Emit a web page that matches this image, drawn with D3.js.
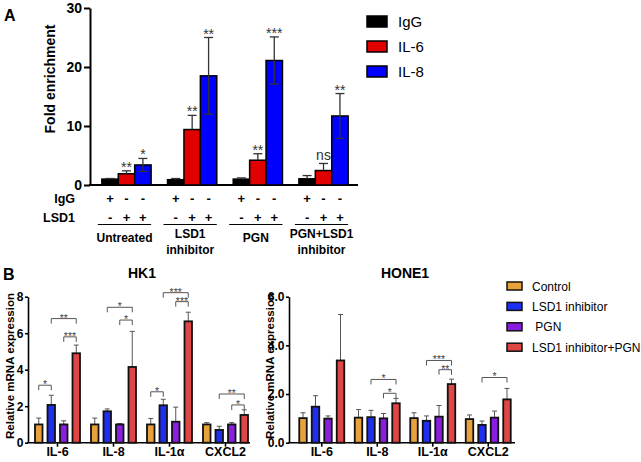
<!DOCTYPE html>
<html>
<head>
<meta charset="utf-8">
<script src="https://cdn.jsdelivr.net/npm/d3@7"></script>
<style>
body { margin: 0; background: #fff; }
text { font-family: "Liberation Sans", Arial, sans-serif; }
</style>
</head>
<body>
<svg id="fig" width="641" height="462"></svg>
<script>
const svg = d3.select("#fig");

// ---- panel A data ----
const groupsA = ["Untreated", "LSD1 inhibitor", "PGN", "PGN+LSD1 inhibitor"];
const groupLinesA = [["Untreated"], ["LSD1", "inhibitor"], ["PGN"], ["PGN+LSD1", "inhibitor"]];
const seriesA = ["IgG", "IL-6", "IL-8"];
const iggA = [1.0, 0.9, 1.0, 1.05];
const iggErrA = [0.1, 0.2, 0.2, 0.55];
const il6A = [1.9, 9.4, 4.2, 2.45];
const il6ErrA = [0.5, 2.4, 1.1, 1.2];
const il8A = [3.4, 18.5, 21.1, 11.7];
const il8ErrA = [1.1, 6.5, 4.0, 3.8];
const il6SigA = ["**", "**", "**", "ns"];
const il8SigA = ["*", "**", "***", "**"];
const iggRow = ["+", "-", "-"];
const lsd1Row = ["-", "+", "+"];
const ticksA = [0, 10, 20, 30];
const colorsA = ["#000000", "#e00000", "#0000ff"];

// ---- panel B data ----
const genesB = ["IL-6", "IL-8", "IL-1α", "CXCL2"];
const condsB = ["Control", "LSD1 inhibitor", " PGN", "LSD1 inhibitor+PGN"];
const colorsB = ["#e9a23b", "#1f2ff0", "#8a1ee0", "#e04646"];

const hkCtrl = [1.0, 1.0, 1.0, 1.0];
const hkLsd1 = [2.07, 1.72, 2.05, 0.7];
const hkPgn = [1.0, 1.0, 1.15, 1.0];
const hkCombo = [4.9, 4.15, 6.65, 1.52];
const hkCtrlErr = [0.35, 0.35, 0.33, 0.1];
const hkLsd1Err = [0.53, 0.13, 0.33, 0.2];
const hkPgnErr = [0.2, 0.05, 0.8, 0.1];
const hkComboErr = [0.45, 1.95, 0.5, 0.28];
// [gene index, from bar, to bar, height, label]
const hkSig = [
  [0, 0, 1, 3.15, "*"], [0, 1, 3, 6.8, "**"], [0, 2, 3, 5.8, "***"],
  [1, 1, 3, 7.42, "*"], [1, 2, 3, 6.72, "*"],
  [2, 0, 1, 2.79, "*"], [2, 1, 3, 8.22, "***"], [2, 2, 3, 7.73, "***"],
  [3, 1, 3, 2.67, "**"], [3, 2, 3, 2.07, "*"]
];
const hkTicks = [0, 2, 4, 6, 8];

const hoCtrl = [1.01, 1.03, 1.01, 0.97];
const hoLsd1 = [1.48, 1.05, 0.9, 0.73];
const hoPgn = [0.99, 1.0, 1.07, 1.03];
const hoCombo = [3.38, 1.62, 2.41, 1.78];
const hoCtrlErr = [0.22, 0.33, 0.22, 0.17];
const hoLsd1Err = [0.45, 0.28, 0.2, 0.16];
const hoPgnErr = [0.11, 0.2, 0.46, 0.27];
const hoComboErr = [1.89, 0.2, 0.2, 0.45];
const hoSig = [
  [1, 1, 3, 2.6, "*"], [1, 2, 3, 2.03, "*"],
  [2, 1, 3, 3.38, "***"], [2, 2, 3, 3.0, "**"],
  [3, 1, 3, 2.68, "*"]
];
const hoTicks = [0, 2, 4, 6];

// ================= panel A =================
const xA = d3.scaleBand().domain(groupsA).range([92, 358]).paddingInner(0.25).paddingOuter(0.15);
const subA = d3.scaleBand().domain(seriesA).range([0, xA.bandwidth()]);
const yA = d3.scaleLinear().domain([0, 30]).range([185, 8]);

const valsA = [iggA, il6A, il8A];
const errsA = [iggErrA, il6ErrA, il8ErrA];
const barsA = groupsA.flatMap((grp, i) =>
  seriesA.map((s, k) => ({ grp, s, k, v: valsA[k][i], e: errsA[k][i] })));

svg.append("text").attr("x", 4).attr("y", 21)
  .attr("font-size", 16).attr("font-weight", "bold").text("A");

const axA = svg.append("g").attr("transform", "translate(90,0)")
  .call(d3.axisLeft(yA).tickValues(ticksA).tickSize(6).tickSizeOuter(0).tickPadding(2));
axA.selectAll("path, line").attr("stroke", "#000").attr("stroke-width", 2);
axA.selectAll("text").attr("font-size", 14).attr("font-weight", "bold")
  .attr("font-family", "Liberation Sans, Arial, sans-serif").attr("fill", "#000");

svg.append("line")
  .attr("x1", 89).attr("x2", xA.range()[1])
  .attr("y1", yA(0)).attr("y2", yA(0))
  .attr("stroke", "#000").attr("stroke-width", 2);

svg.append("text")
  .attr("transform", "translate(55,79) rotate(-90)")
  .attr("text-anchor", "middle").attr("font-size", 14).attr("font-weight", "bold")
  .text("Fold enrichment");

svg.append("g").selectAll("rect").data(barsA).join("rect")
  .attr("x", d => xA(d.grp) + subA(d.s))
  .attr("y", d => yA(d.v))
  .attr("width", subA.bandwidth())
  .attr("height", d => yA(0) - yA(d.v))
  .attr("fill", d => colorsA[d.k])
  .attr("stroke", "#000").attr("stroke-width", 1.5);

const errA = svg.append("g").attr("stroke", "#333").attr("stroke-width", 1.3);
barsA.forEach(d => {
  const cx = xA(d.grp) + subA(d.s) + subA.bandwidth() / 2;
  const lo = d.k === 2 ? d.v - d.e : d.v;
  errA.append("line").attr("x1", cx).attr("x2", cx).attr("y1", yA(lo)).attr("y2", yA(d.v + d.e));
  errA.append("line").attr("x1", cx - 4.5).attr("x2", cx + 4.5)
    .attr("y1", yA(d.v + d.e)).attr("y2", yA(d.v + d.e));
  if (d.k === 2) {
    errA.append("line").attr("x1", cx - 4.5).attr("x2", cx + 4.5)
      .attr("y1", yA(lo)).attr("y2", yA(lo));
  }
});

// significance marks over IL-6 and IL-8
const sigA = svg.append("g").attr("fill", "#333").attr("text-anchor", "middle").attr("font-size", 14);
groupsA.forEach((grp, i) => {
  [[1, il6SigA[i]], [2, il8SigA[i]]].forEach(([k, lab]) => {
    const cx = xA(grp) + subA(seriesA[k]) + subA.bandwidth() / 2;
    const top = yA(valsA[k][i] + errsA[k][i]);
    sigA.append("text").attr("x", cx).attr("y", lab === "ns" ? top - 3 : top + 1).text(lab);
  });
});

// legend A
const legA = svg.append("g");
seriesA.forEach((s, k) => {
  legA.append("rect").attr("x", 367).attr("y", 16 + k * 25).attr("width", 20).attr("height", 11)
    .attr("fill", colorsA[k]).attr("stroke", "#000").attr("stroke-width", 1.5);
  legA.append("text").attr("x", 398).attr("y", 27 + k * 25).attr("font-size", 15).text(s);
});

// +/- rows and group labels
const rowA = svg.append("g").attr("font-weight", "bold");
rowA.append("text").attr("x", 75).attr("y", 203).attr("text-anchor", "end").attr("font-size", 12.5).text("IgG");
rowA.append("text").attr("x", 75).attr("y", 222).attr("text-anchor", "end").attr("font-size", 12.5).text("LSD1");
groupsA.forEach((grp, i) => {
  seriesA.forEach((s, k) => {
    const cx = xA(grp) + subA(s) + subA.bandwidth() / 2;
    rowA.append("text").attr("x", cx).attr("y", 203).attr("text-anchor", "middle")
      .attr("font-size", 13).text(iggRow[k]);
    rowA.append("text").attr("x", cx).attr("y", 222).attr("text-anchor", "middle")
      .attr("font-size", 13).text(lsd1Row[k]);
  });
  rowA.append("line").attr("x1", xA(grp) - 4).attr("x2", xA(grp) + xA.bandwidth())
    .attr("y1", 224.5).attr("y2", 224.5).attr("stroke", "#000").attr("stroke-width", 1.2);
  const lines = groupLinesA[i];
  lines.forEach((ln, j) => {
    rowA.append("text")
      .attr("x", xA(grp) + xA.bandwidth() / 2 - 2)
      .attr("y", lines.length === 1 ? 242 : 238 + j * 16)
      .attr("text-anchor", "middle").attr("font-size", 12).text(ln);
  });
});

// ================= panel B =================
svg.append("text").attr("x", 3).attr("y", 280)
  .attr("font-size", 16).attr("font-weight", "bold").text("B");

function panelB(opt) {
  const x = d3.scaleBand().domain(genesB).range(opt.xRange);
  const sub = d3.scaleBand().domain(condsB).range([-25, 25]).paddingInner(0.4).paddingOuter(0.2);
  const y = d3.scaleLinear().domain([0, opt.yMax]).range([442.7, 296.7]);
  const cx = (gi, k) => x(genesB[gi]) + x.bandwidth() / 2 + sub(condsB[k]) + sub.bandwidth() / 2;

  const g = svg.append("g");

  g.append("text").attr("x", opt.titleX).attr("y", 278).attr("text-anchor", "middle")
    .attr("font-size", 14).attr("font-weight", "bold").text(opt.title);

  g.append("text")
    .attr("transform", `translate(${opt.labelX},366) rotate(-90)`)
    .attr("text-anchor", "middle").attr("font-size", 11.5).attr("font-weight", "bold")
    .text("Relative mRNA expression");

  const ay = g.append("g").attr("transform", `translate(${opt.axisX},0)`)
    .call(d3.axisLeft(y).tickValues(opt.ticks).tickSize(3).tickSizeOuter(0).tickPadding(1.5));
  ay.selectAll("path, line").attr("stroke", "#000").attr("stroke-width", 1.6);
  ay.selectAll("text").attr("font-size", 12).attr("font-weight", "bold")
    .attr("font-family", "Liberation Sans, Arial, sans-serif").attr("fill", "#000");

  const ax = g.append("g").attr("transform", `translate(0,${y(0)})`)
    .call(d3.axisBottom(x).tickSize(4))
    .call(s => s.select(".domain").remove());
  ax.selectAll("line").attr("stroke", "#000").attr("stroke-width", 1.6);
  ax.selectAll("text").attr("font-size", 12.5).attr("font-weight", "bold")
    .attr("font-family", "Liberation Sans, Arial, sans-serif").attr("fill", "#000")
    .attr("y", 13).attr("dy", null);
  g.append("line").attr("x1", opt.axisX - 0.8).attr("x2", opt.axisEnd)
    .attr("y1", y(0)).attr("y2", y(0)).attr("stroke", "#000").attr("stroke-width", 1.6);

  const bars = genesB.flatMap((gene, i) =>
    condsB.map((c, k) => ({ i, k, v: opt.values[k][i], e: opt.errs[k][i] })));

  const eg = g.append("g").attr("stroke", "#555").attr("stroke-width", 1);
  bars.forEach(d => {
    const c = cx(d.i, d.k);
    eg.append("line").attr("x1", c).attr("x2", c).attr("y1", y(d.v)).attr("y2", y(d.v + d.e));
    eg.append("line").attr("x1", c - 2.5).attr("x2", c + 2.5)
      .attr("y1", y(d.v + d.e)).attr("y2", y(d.v + d.e));
  });

  g.append("g").selectAll("rect").data(bars).join("rect")
    .attr("x", d => cx(d.i, d.k) - sub.bandwidth() / 2)
    .attr("y", d => y(d.v))
    .attr("width", sub.bandwidth())
    .attr("height", d => y(0) - y(d.v))
    .attr("fill", d => colorsB[d.k])
    .attr("stroke", "#111").attr("stroke-width", 1.8);

  const bg = g.append("g");
  opt.sig.forEach(([gi, a, b, h, lab]) => {
    const x1 = cx(gi, a), x2 = cx(gi, b), yy = y(h);
    bg.append("path")
      .attr("d", `M${x1},${yy + 5}V${yy}H${x2}V${yy + 5}`)
      .attr("fill", "none").attr("stroke", "#555").attr("stroke-width", 1);
    bg.append("text").attr("x", (x1 + x2) / 2).attr("y", yy + 3)
      .attr("text-anchor", "middle").attr("font-size", 10.5).attr("fill", "#444").text(lab);
  });
}

panelB({
  title: "HK1", titleX: 142, labelX: 14, axisX: 28, axisEnd: 250,
  xRange: [29.5, 253.5], yMax: 8, ticks: hkTicks,
  values: [hkCtrl, hkLsd1, hkPgn, hkCombo],
  errs: [hkCtrlErr, hkLsd1Err, hkPgnErr, hkComboErr],
  sig: hkSig
});

panelB({
  title: "HONE1", titleX: 405, labelX: 274, axisX: 289, axisEnd: 515,
  xRange: [294, 516], yMax: 6, ticks: hoTicks,
  values: [hoCtrl, hoLsd1, hoPgn, hoCombo],
  errs: [hoCtrlErr, hoLsd1Err, hoPgnErr, hoComboErr],
  sig: hoSig
});

// legend B
const legB = svg.append("g");
condsB.forEach((c, k) => {
  const cy = 286 + k * 20.4;
  legB.append("rect").attr("x", 507).attr("y", cy - 4).attr("width", 15).attr("height", 8)
    .attr("fill", colorsB[k]).attr("stroke", "#111").attr("stroke-width", 1.5);
  legB.append("text").attr("x", 532).attr("y", cy + 4.5).attr("font-size", 12)
    .style("white-space", "pre").text(c);
});
</script>
</body>
</html>
